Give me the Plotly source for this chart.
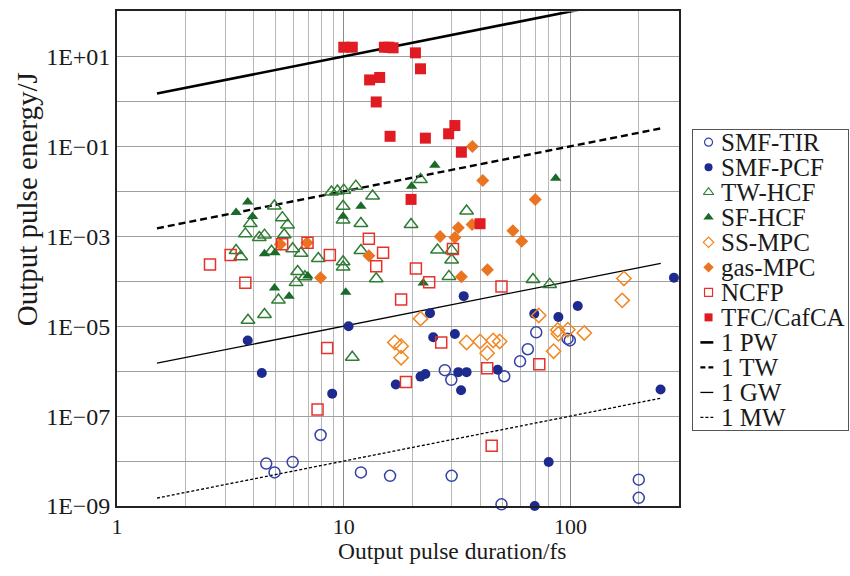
import plotly.graph_objects as go

# ---------------- data (pulse duration in fs, pulse energy in J) ----------------
tir_tau = [7.9, 4.55, 4.95, 5.95, 11.9, 16.0, 29.9, 49.6, 200, 200, 27.9, 29.8, 51.0, 59.9, 64.8, 70.6, 97.0, 99.3]
tir_E = [3.8e-8, 8.8e-9, 5.6e-9, 9.5e-9, 5.6e-9, 4.7e-9, 4.7e-9, 1.09e-9, 3.86e-9, 1.52e-9,
         1.05e-6, 6.4e-7, 7.7e-7, 1.65e-6, 3.07e-6, 7.3e-6, 5.27e-6, 4.82e-6]

pcf_tau = [3.77, 4.35, 8.89, 10.5, 16.96, 24.0, 33.8, 24.8, 30.9, 21.8, 22.9, 32.0, 34.8, 32.9, 47.7,
           69.2, 88.4, 107.6, 285.8, 249.5, 80.1, 69.5]
pcf_E = [4.82e-6, 9.05e-7, 3.16e-7, 9.95e-6, 5.06e-7, 1.95e-5, 4.65e-5, 5.68e-6, 6.7e-6, 7.55e-7, 8.6e-7,
         9.5e-7, 9.5e-7, 3.75e-7, 1.07e-6, 1.89e-5, 1.6e-5, 2.82e-5, 1.19e-4, 3.9e-7, 9.5e-9, 1.0e-9]

twhcf_tau = [4.94, 5.36, 5.65, 3.87, 3.68, 4.24, 4.47, 5.46, 3.35, 3.51, 4.80, 5.95, 6.48, 7.72, 8.82,
             9.37, 10.0, 11.3, 13.4, 9.93, 9.93, 11.9, 11.9, 9.93, 9.93, 6.26, 6.74, 6.16, 5.15, 4.47,
             3.78, 13.9, 10.9, 19.8, 21.8, 34.8, 25.9, 29.9, 29.9, 29.1, 68.3, 80.9]
twhcf_E = [4.72e-3, 2.59e-3, 1.79e-3, 1.91e-3, 1.13e-3, 9.4e-4, 1.06e-3, 1.08e-3, 4.82e-4, 3.49e-4,
           4.65e-4, 5.27e-4, 4.2e-4, 3.19e-4, 9.6e-3, 1.01e-2, 1.06e-2, 1.30e-2, 7.87e-3, 4.65e-3,
           2.31e-3, 1.92e-3, 4.82e-4, 2.71e-4, 2.06e-4, 1.64e-4, 1.26e-4, 9.4e-5, 3.8e-5, 1.82e-5,
           1.35e-5, 1.13e-4, 2.04e-6, 1.82e-3, 1.82e-2, 3.64e-3, 4.96e-4, 4.84e-4, 2.96e-4, 1.28e-4,
           1.09e-4, 8.5e-5]

sfhcf_tau = [3.77, 3.35, 3.96, 9.93, 11.9, 4.47, 4.97, 6.94, 4.95, 5.74, 10.2, 25.2, 19.9, 86.0, 22.4]
sfhcf_E = [5.77e-3, 3.36e-3, 2.75e-3, 2.8e-3, 4.64e-3, 4.1e-4, 4.31e-4, 1.31e-4, 7.1e-5, 4.6e-5,
           5.7e-5, 3.77e-2, 1.30e-2, 1.94e-2, 9.1e-5]

ssmpc_tau = [21.8, 16.8, 17.9, 17.9, 34.8, 39.9, 45.6, 48.7, 42.9, 72.4, 87.8, 88.4, 97.3, 115, 84.2, 172, 169]
ssmpc_E = [1.47e-5, 4.35e-6, 3.58e-6, 1.99e-6, 4.35e-6, 4.58e-6, 4.82e-6, 4.58e-6, 2.51e-6, 1.73e-5,
           8.26e-6, 6.77e-6, 8.35e-6, 7.05e-6, 2.78e-6, 1.15e-4, 3.75e-5]

gasmpc_tau = [5.25, 6.89, 12.9, 7.90, 26.6, 30.9, 32.0, 36.8, 33.0, 43.0, 36.9, 41.0, 69.9, 55.7, 60.9]
gasmpc_E = [6.6e-4, 7.2e-4, 3.67e-4, 1.2e-4, 9.85e-4, 9.4e-4, 1.55e-3, 1.83e-3, 1.26e-4, 1.81e-4,
            9.85e-2, 1.73e-2, 6.6e-3, 1.33e-3, 7.79e-4]

ncfp_tau = [2.57, 3.17, 3.68, 5.35, 6.92, 8.68, 12.9, 14.9, 13.9, 20.8, 23.8, 17.9, 30.3, 8.45, 7.66,
            26.9, 18.8, 42.9, 49.6, 72.8, 44.9]
ncfp_E = [2.34e-4, 3.84e-4, 9.2e-5, 6.6e-4, 7.2e-4, 3.84e-4, 8.78e-4, 4.27e-4, 2.14e-4, 1.92e-4,
          9.5e-5, 3.94e-5, 5.22e-4, 3.27e-6, 1.4e-7, 4.35e-6, 5.74e-7, 1.16e-6, 7.67e-5, 1.42e-6, 2.19e-8]

tfc_tau = [10.0, 10.9, 15.1, 15.8, 16.5, 20.7, 21.8, 13.0, 14.4, 13.9, 16.0, 22.9, 29.0, 30.9, 33.0, 19.8, 39.9]
tfc_E = [16, 16, 16, 16, 15.5, 12, 5.3, 3.0, 3.4, 0.97, 0.167, 0.152, 0.19, 0.29, 0.074, 0.0066, 0.0019]

# constant peak-power reference lines
power_names = ["1 PW", "1 TW", "1 GW", "1 MW"]
power_W = [1e15, 1e12, 1e9, 1e6]
line_tau = [1.5, 250]

x_tickvals = [1, 10, 100]
x_ticktext = ["1", "10", "100"]
x_minorvals = [2, 3, 4, 5, 6, 7, 8, 9, 20, 30, 40, 50, 60, 70, 80, 90, 200]
y_tickvals = [1e-9, 1e-8, 1e-7, 1e-6, 1e-5, 1e-4, 1e-3, 1e-2, 1e-1, 1e0, 1e1, 1e2]
y_ticktext = ["1E\u221209", "", "1E\u221207", "", "1E\u221205", "", "1E\u221203", "", "1E\u221201", "", "1E+01", ""]

# ---------------- styles ----------------
FONT = "Liberation Serif"
W, H = 850, 576
PX_L, PX_R, PX_T, PX_B = 112.7, 677.7, 11.7, 517.7

series = [
    ("SMF-TIR", tir_tau, tir_E, dict(symbol="circle-open", size=11, color="#3341a6", line=dict(width=1.5, color="#3341a6"))),
    ("SMF-PCF", pcf_tau, pcf_E, dict(symbol="circle", size=10, color="#1d2b8f")),
    ("TW-HCF", twhcf_tau, twhcf_E, dict(symbol="triangle-up-open", size=12, color="#2f7d34", line=dict(width=1.5, color="#2f7d34"))),
    ("SF-HCF", sfhcf_tau, sfhcf_E, dict(symbol="triangle-up", size=10, color="#1a6a2a")),
    ("SS-MPC", ssmpc_tau, ssmpc_E, dict(symbol="diamond-open", size=11, color="#f2861f", line=dict(width=1.5, color="#f2861f"))),
    ("gas-MPC", gasmpc_tau, gasmpc_E, dict(symbol="diamond", size=10, color="#ea7420")),
    ("NCFP", ncfp_tau, ncfp_E, dict(symbol="square-open", size=11, color="#e8312b", line=dict(width=1.5, color="#e8312b"))),
    ("TFC/CafCA", tfc_tau, tfc_E, dict(symbol="square", size=11, color="#e11b22")),
]
line_styles = [dict(width=2.6, dash="solid"), dict(width=2.4, dash="7px,4px"),
               dict(width=1.3, dash="solid"), dict(width=1.3, dash="3px,2px")]
legend_line_styles = [dict(width=2.6, dash="solid"), dict(width=2.4, dash="5px,3px"),
                      dict(width=1.3, dash="solid"), dict(width=1.3, dash="3px,2px")]

fig = go.Figure()

for name, P, st in zip(power_names, power_W, line_styles):
    fig.add_trace(go.Scatter(x=line_tau, y=[P * t * 1e-15 for t in line_tau], mode="lines",
                             line=dict(color="black", **st), name=name, showlegend=False,
                             xaxis="x", yaxis="y"))

for name, tx, ey, mk in series:
    fig.add_trace(go.Scatter(x=tx, y=ey, mode="markers", marker=mk, name=name, showlegend=False,
                             cliponaxis=False, xaxis="x", yaxis="y"))

# ---------------- custom legend on an auxiliary axis ----------------
LG_L, LG_R, LG_T, LG_B = 692, 848, 133, 440
row0, rowstep = 12.5, 25.6
legend_labels = [s[0] for s in series] + power_names
annotations = []
for i, lab in enumerate(legend_labels):
    yy = row0 + rowstep * i
    if i < len(series):
        mk = dict(series[i][3])
        mk["size"] = 8 if "triangle" not in mk["symbol"] else 9
        if "line" in mk:
            mk["line"] = dict(width=1.2, color=mk["color"])
        fig.add_trace(go.Scatter(x=[15.7], y=[yy], mode="markers", marker=mk, showlegend=False,
                                 xaxis="x2", yaxis="y2", hoverinfo="skip"))
    else:
        st = dict(legend_line_styles[i - len(series)])
        fig.add_trace(go.Scatter(x=[7.5, 20.5], y=[yy, yy], mode="lines", line=dict(color="black", **st),
                                 showlegend=False, xaxis="x2", yaxis="y2", hoverinfo="skip"))
    annotations.append(dict(x=26.0, y=yy, xref="x2", yref="y2", text=lab, showarrow=False,
                            xanchor="left", yanchor="middle", font=dict(family=FONT, size=25, color="#1a1a1a")))

annotations.append(dict(x=449.5 / W, y=1 - 564 / H, xref="paper", yref="paper", text="Output pulse duration/fs",
                        showarrow=False, xanchor="center", yanchor="middle",
                        font=dict(family=FONT, size=23.5, color="#1a1a1a")))
annotations.append(dict(x=23 / W, y=1 - 204 / H, xref="paper", yref="paper", text="Output pulse energy/J",
                        showarrow=False, xanchor="center", yanchor="middle", textangle=-90,
                        font=dict(family=FONT, size=29, color="#1a1a1a")))

fig.update_layout(
    width=W, height=H, margin=dict(l=0, r=0, t=0, b=0),
    paper_bgcolor="white", plot_bgcolor="white", showlegend=False,
    font=dict(family=FONT, size=22, color="#1a1a1a"),
    xaxis=dict(type="log", range=[0, 2.4771], domain=[PX_L / W, PX_R / W], anchor="y",
               tickmode="array", tickvals=x_tickvals, ticktext=x_ticktext, ticks="",
               showgrid=True, gridcolor="#8c8c8c", gridwidth=1,
               minor=dict(tickmode="array", tickvals=x_minorvals, showgrid=True, gridcolor="#b8b8b8",
                          gridwidth=1, ticks=""),
               showline=True, mirror=True, linecolor="#222222", linewidth=1.8,
               tickfont=dict(family=FONT, size=22, color="#1a1a1a"), zeroline=False),
    yaxis=dict(type="log", range=[-9, 2], domain=[1 - PX_B / H, 1 - PX_T / H], anchor="x",
               tickmode="array", tickvals=y_tickvals, ticktext=y_ticktext, ticks="",
               showgrid=True, gridcolor="#a0a0a0", gridwidth=1,
               showline=True, mirror=True, linecolor="#222222", linewidth=1.8,
               tickfont=dict(family=FONT, size=24, color="#1a1a1a"), zeroline=False),
    xaxis2=dict(domain=[LG_L / W, LG_R / W], range=[0, LG_R - LG_L], anchor="y2",
                showgrid=False, zeroline=False, showticklabels=False, ticks="",
                showline=True, mirror=True, linecolor="#555555", linewidth=1, fixedrange=True),
    yaxis2=dict(domain=[1 - LG_B / H, 1 - LG_T / H], range=[LG_B - LG_T, 0], anchor="x2",
                showgrid=False, zeroline=False, showticklabels=False, ticks="",
                showline=True, mirror=True, linecolor="#555555", linewidth=1, fixedrange=True),
    annotations=annotations,
)

page_fix = """
document.documentElement.style.margin='0';document.documentElement.style.padding='0';
document.body.style.margin='0';document.body.style.padding='0';
document.documentElement.style.overflow='hidden';document.body.style.overflow='hidden';
"""
fig.write_html("out.html", config=dict(displayModeBar=False), post_script=page_fix)
